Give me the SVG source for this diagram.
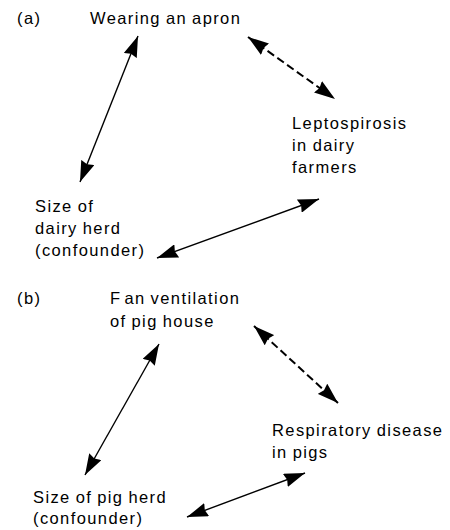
<svg xmlns="http://www.w3.org/2000/svg" width="450" height="530" viewBox="0 0 450 530">
<style>
text{font-family:"Liberation Sans",Arial,sans-serif;font-size:16.5px;letter-spacing:1.4px;word-spacing:-1px;fill:#000}
.c{fill:none;stroke:#000;stroke-width:1.4}
.d{stroke-width:2;stroke-dasharray:8 4}
</style>
<defs>
<marker id="ah" markerUnits="userSpaceOnUse" markerWidth="22" markerHeight="14" refX="21" refY="7" orient="auto-start-reverse" viewBox="0 0 22 14">
<path d="M0,0 L21,7 L0,14 L2,7 z" fill="#000"/>
</marker>
</defs>
<rect width="450" height="530" fill="#fff"/>
<text x="17" y="24">(a)</text>
<text x="17" y="304">(b)</text>
<g id="apron"><text x="90" y="24">Wearing an apron</text></g>
<g id="lepto"><text x="292" y="129">Leptospirosis</text><text x="292" y="151">in dairy</text><text x="292" y="173">farmers</text></g>
<g id="dairyherd"><text x="35" y="212">Size of</text><text x="35" y="234">dairy herd</text><text x="35" y="256">(confounder)</text></g>
<g id="fan"><text x="110" y="304">F<tspan dx="3">an ventilation</tspan></text><text x="110" y="327">of pig house</text></g>
<g id="resp"><text x="272" y="436">Respiratory disease</text><text x="272" y="458">in pigs</text></g>
<g id="pigherd"><text x="33" y="503">Size of pig herd</text><text x="33" y="524">(confounder)</text></g>
<g id="connectors">
<line class="c" x1="80" y1="182" x2="138" y2="36" marker-start="url(#ah)" marker-end="url(#ah)"/>
<line class="c d" x1="248" y1="37" x2="335" y2="99" marker-start="url(#ah)" marker-end="url(#ah)"/>
<line class="c" x1="157" y1="258" x2="319" y2="199" marker-start="url(#ah)" marker-end="url(#ah)"/>
<line class="c" x1="85" y1="475" x2="159" y2="344" marker-start="url(#ah)" marker-end="url(#ah)"/>
<line class="c d" x1="254" y1="326" x2="338" y2="403" marker-start="url(#ah)" marker-end="url(#ah)"/>
<line class="c" x1="187" y1="517" x2="305" y2="473" marker-start="url(#ah)" marker-end="url(#ah)"/>
</g>
</svg>
